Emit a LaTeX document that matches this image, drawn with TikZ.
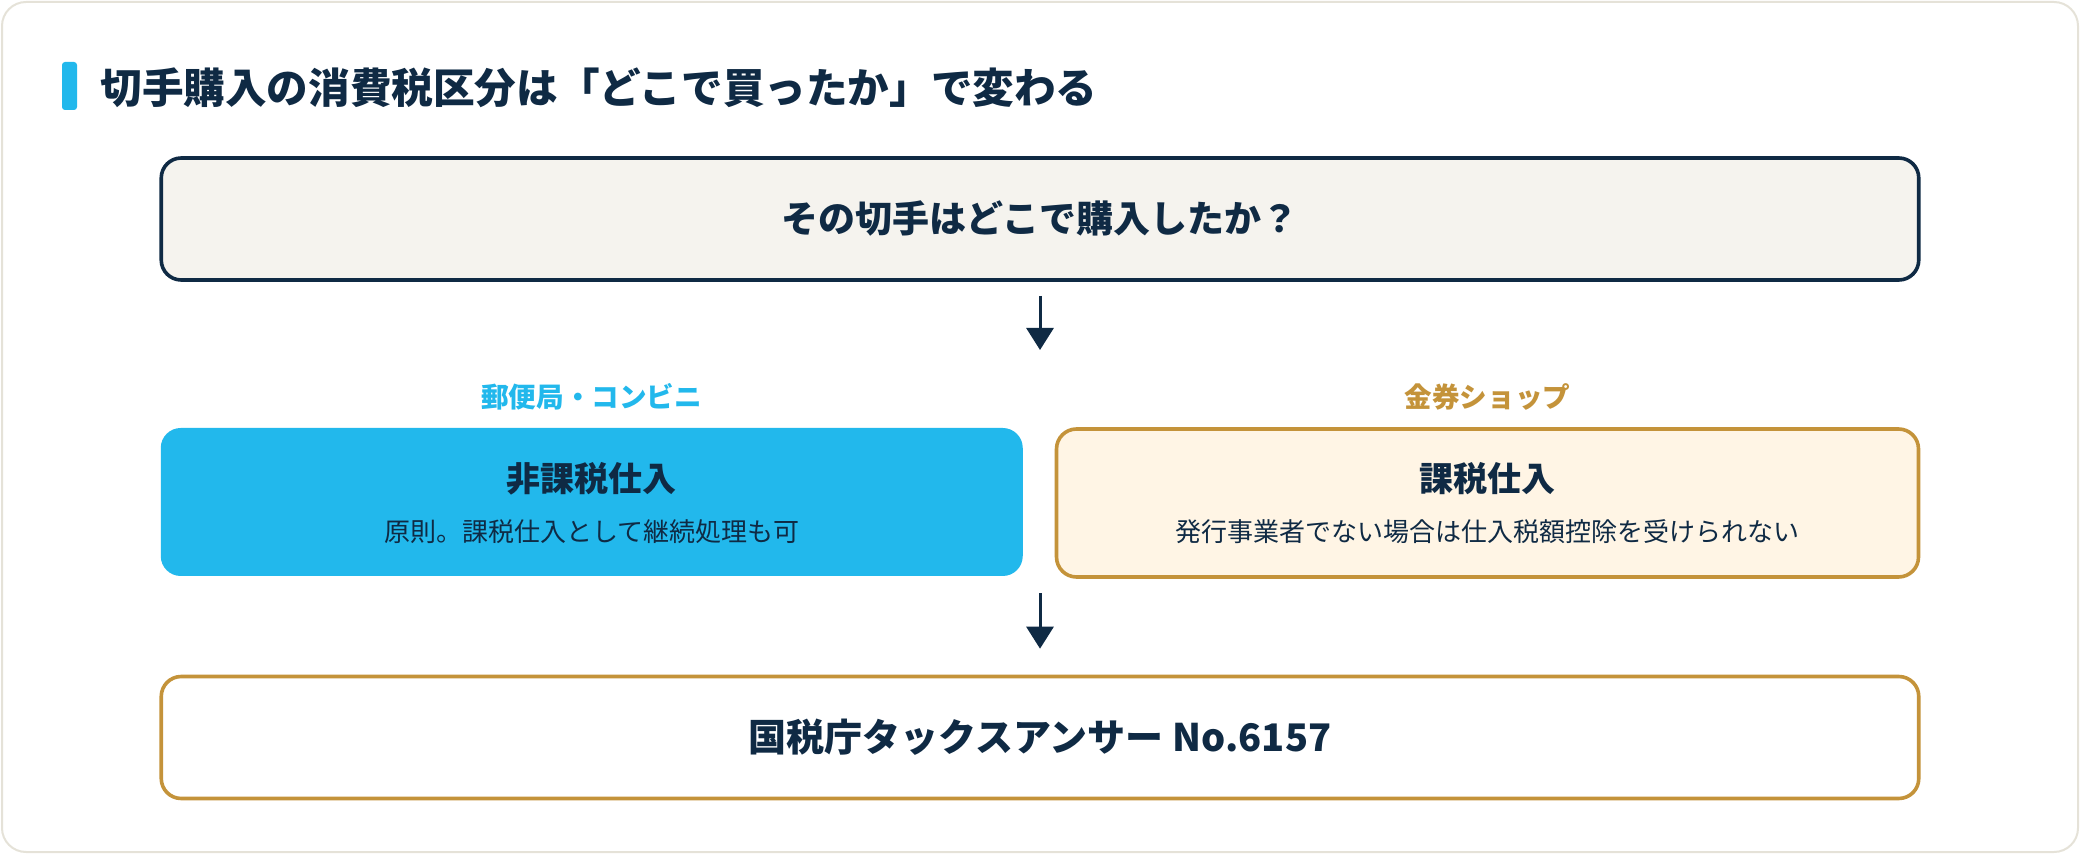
\documentclass[tikz,border=0pt]{standalone}
\usepackage{fontspec}
\setmainfont{Noto Sans CJK JP}
\usepackage{xcolor}
\usetikzlibrary{arrows.meta}
\definecolor{navy}{HTML}{0F2A44}
\definecolor{sky}{HTML}{22B8EC}
\definecolor{gold}{HTML}{C4933A}
\definecolor{cream}{HTML}{FFF5E5}
\definecolor{paper}{HTML}{F5F3EE}
\definecolor{frame}{HTML}{E5E2D8}
\tikzset{>={Triangle[length=11pt,width=13.5pt]}}
\tikzset{
  widebox/.style={rectangle,rounded corners=10pt,line width=1.8pt,
    minimum width=878.75pt,minimum height=61pt,inner sep=0pt},
  halfbox/.style={rectangle,rounded corners=10pt,line width=1.8pt,
    minimum width=431pt,minimum height=74pt,inner sep=0pt},
  flow/.style={->,line width=1.5pt,draw=navy},
  boxtitle/.style={text=navy,font=\fontsize{17}{20}\selectfont\bfseries},
  boxsub/.style={text=navy,font=\fontsize{13}{16}\selectfont},
  branch/.style={font=\fontsize{13.8}{16}\selectfont\bfseries}
}

\begin{document}
\begin{tikzpicture}[x=0.5pt,y=-0.5pt]
    \useasboundingbox (0,0) rectangle (2080,854);
    \draw[frame,fill=white,line width=1pt,rounded corners=12pt] (2,2) rectangle (2078,852);

    % heading
    \fill[sky,rounded corners=1.5pt] (62,62) rectangle (77,110);
    \node[anchor=west,text=navy,inner sep=0pt,font=\fontsize{20.8}{24}\selectfont\bfseries] (head) at (100,88)
        {切手購入の消費税区分は「どこで買ったか」で変わる};

    \node[widebox,draw=navy,fill=paper,text=navy,font=\fontsize{18.5}{22}\selectfont\bfseries] (q) at (1040,219)
        {その切手はどこで購入したか？};
    \coordinate (a1) at (1040,350);
    \draw[flow,shorten <=7pt] (q.south) -- (a1);

    \node[branch,text=sky] (post) at (591.75,397) {郵便局・コンビニ};
    \node[branch,text=gold] (shop) at (1487.5,397) {金券ショップ};

    \node[halfbox,fill=sky] (nontax) at (591.75,502) {};
    \node[boxtitle] (nontaxt) at (591.75,479) {非課税仕入};
    \node[boxsub] (nontaxs) at (591.75,532) {原則。課税仕入として継続処理も可};

    \node[halfbox,draw=gold,fill=cream] (tax) at (1487.5,503) {};
    \node[boxtitle] (taxt) at (1487.5,479) {課税仕入};
    \node[boxsub] (taxs) at (1487.5,532) {発行事業者でない場合は仕入税額控除を受けられない};

    \node[widebox,draw=gold,fill=white,text=navy,font=\fontsize{19}{22}\selectfont\bfseries] (src) at (1040,737.5)
        {国税庁タックスアンサー No.6157};
    \coordinate (a2) at (1040,593);
    \draw[flow,shorten >=13pt] (a2) -- (src.north);
\end{tikzpicture}
\end{document}
